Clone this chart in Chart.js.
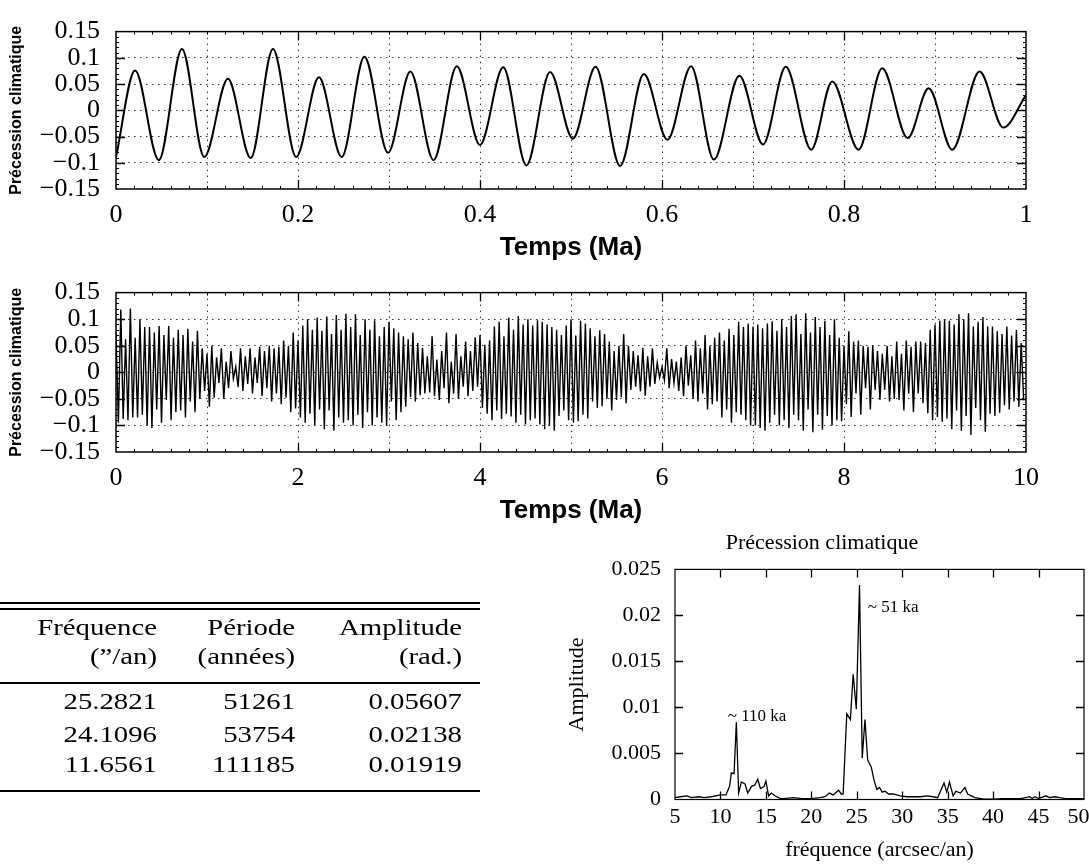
<!DOCTYPE html>
<html lang="fr">
<head>
<meta charset="utf-8">
<title>Précession climatique</title>
<script src="https://cdn.jsdelivr.net/npm/chart.js@4.4.1/dist/chart.umd.min.js"></script>
<style>
  html, body { margin: 0; padding: 0; background: #fff; }
  body { position: relative; width: 1089px; height: 865px; overflow: hidden; }
  .panel { position: absolute; }
  .rule { position: absolute; left: 0; width: 480px; background: #000; }
  #cells { position: absolute; left: 0; top: 0; transform: scaleX(1.25); transform-origin: 0 0;
           font-family: "Liberation Serif", serif; font-size: 23px; line-height: 26px; color: #000; }
  .cell { position: absolute; left: 0; text-align: right; white-space: nowrap; }
</style>
</head>
<body>
<div class="panel" style="left:0;top:0"><canvas id="topChart" width="1089" height="270"></canvas></div>
<div class="panel" style="left:0;top:261px"><canvas id="midChart" width="1089" height="270"></canvas></div>
<div class="panel" style="left:560px;top:525px"><canvas id="specChart" width="529" height="340"></canvas></div>
<div id="table"><div id="cells"></div></div>
<script>
// --- precession over the last 1 Ma (turning points of the curve)
const topTimes = [0, 0.021, 0.047, 0.0725, 0.097, 0.123, 0.148, 0.1725, 0.198, 0.223,
  0.248, 0.273, 0.299, 0.3235, 0.349, 0.3745, 0.400, 0.4255, 0.451, 0.477,
  0.502, 0.527, 0.554, 0.580, 0.606, 0.632, 0.657, 0.685, 0.711, 0.736,
  0.764, 0.787, 0.816, 0.842, 0.870, 0.893, 0.919, 0.949, 0.975, 1.0];
const topValues = [-0.089, 0.076, -0.095, 0.117, -0.089, 0.060, -0.091, 0.117, -0.089, 0.063,
  -0.089, 0.102, -0.081, 0.074, -0.095, 0.084, -0.066, 0.082, -0.105, 0.073,
  -0.054, 0.083, -0.106, 0.069, -0.056, 0.084, -0.094, 0.066, -0.065, 0.083,
  -0.075, 0.055, -0.075, 0.080, -0.053, 0.042, -0.075, 0.074, -0.033, 0.029];

// --- precession over 10 Ma, sampled: one row of maxima / minima per Ma
const midSpan = 10;
const midPeaks = [
  [0.075, 0.118, 0.062, 0.120, 0.065, 0.100, 0.085, 0.085, 0.075, 0.087, 0.070, 0.087, 0.065, 0.080, 0.070, 0.082, 0.058, 0.078, 0.045],
  [0.035, 0.050, 0.028, 0.045, 0.020, 0.040, 0.010, 0.045, 0.030, 0.045, 0.028, 0.048, 0.040, 0.050, 0.045, 0.048, 0.060, 0.050, 0.075],
  [0.060, 0.088, 0.100, 0.080, 0.103, 0.078, 0.105, 0.072, 0.108, 0.080, 0.110, 0.085, 0.109, 0.070, 0.100, 0.080, 0.098, 0.068, 0.085],
  [0.095, 0.083, 0.075, 0.068, 0.062, 0.075, 0.055, 0.046, 0.030, 0.068, 0.024, 0.040, 0.075, 0.020, 0.072, 0.030, 0.058, 0.040, 0.066],
  [0.070, 0.052, 0.060, 0.086, 0.095, 0.068, 0.103, 0.080, 0.106, 0.090, 0.100, 0.088, 0.098, 0.095, 0.090, 0.085, 0.080, 0.070, 0.088],
  [0.100, 0.069, 0.097, 0.092, 0.083, 0.068, 0.079, 0.072, 0.058, 0.040, 0.050, 0.072, 0.050, 0.040, 0.032, 0.046, 0.030, 0.045, 0.018],
  [0.010, 0.045, 0.025, 0.020, 0.028, 0.050, 0.032, 0.060, 0.045, 0.070, 0.050, 0.065, 0.075, 0.060, 0.082, 0.070, 0.095, 0.085, 0.092],
  [0.086, 0.090, 0.083, 0.092, 0.096, 0.078, 0.100, 0.085, 0.106, 0.109, 0.072, 0.111, 0.075, 0.104, 0.085, 0.097, 0.070, 0.100, 0.065],
  [0.050, 0.077, 0.058, 0.060, 0.050, 0.048, 0.050, 0.040, 0.035, 0.050, 0.030, 0.058, 0.035, 0.060, 0.048, 0.058, 0.058, 0.055, 0.080],
  [0.090, 0.097, 0.100, 0.097, 0.090, 0.109, 0.100, 0.111, 0.086, 0.095, 0.104, 0.086, 0.086, 0.077, 0.072, 0.086, 0.069, 0.080, 0.055]
];
const midTroughs = [
  [-0.095, -0.088, -0.090, -0.085, -0.085, -0.080, -0.100, -0.105, -0.070, -0.095, -0.052, -0.090, -0.075, -0.072, -0.085, -0.055, -0.075, -0.050, -0.035],
  [-0.065, -0.048, -0.020, -0.050, -0.030, -0.012, -0.028, -0.035, -0.022, -0.040, -0.020, -0.045, -0.030, -0.055, -0.040, -0.060, -0.048, -0.075, -0.068],
  [-0.085, -0.095, -0.078, -0.100, -0.070, -0.107, -0.072, -0.110, -0.085, -0.095, -0.090, -0.100, -0.080, -0.105, -0.075, -0.100, -0.085, -0.095, -0.100],
  [-0.055, -0.090, -0.075, -0.065, -0.047, -0.055, -0.043, -0.040, -0.038, -0.045, -0.052, -0.030, -0.058, -0.040, -0.050, -0.027, -0.045, -0.035, -0.027],
  [-0.067, -0.078, -0.090, -0.072, -0.088, -0.078, -0.083, -0.095, -0.080, -0.098, -0.090, -0.087, -0.098, -0.107, -0.100, -0.110, -0.082, -0.072, -0.090],
  [-0.095, -0.092, -0.080, -0.087, -0.055, -0.067, -0.064, -0.050, -0.072, -0.052, -0.047, -0.058, -0.033, -0.027, -0.036, -0.044, -0.027, -0.022, -0.010],
  [-0.015, -0.030, -0.020, -0.035, -0.045, -0.025, -0.050, -0.055, -0.040, -0.070, -0.060, -0.055, -0.085, -0.070, -0.095, -0.075, -0.080, -0.090, -0.100],
  [-0.100, -0.105, -0.110, -0.095, -0.080, -0.100, -0.090, -0.105, -0.080, -0.090, -0.110, -0.070, -0.113, -0.080, -0.108, -0.082, -0.100, -0.090, -0.092],
  [-0.060, -0.084, -0.040, -0.080, -0.030, -0.070, -0.033, -0.052, -0.033, -0.055, -0.050, -0.052, -0.072, -0.040, -0.075, -0.040, -0.058, -0.077, -0.090],
  [-0.084, -0.093, -0.087, -0.107, -0.072, -0.110, -0.082, -0.118, -0.067, -0.090, -0.112, -0.078, -0.082, -0.076, -0.062, -0.070, -0.055, -0.065, -0.050]
];

// --- amplitude spectrum
const specFreq = [5.0, 5.6, 6.3, 6.8, 7.6, 8.2, 9.0, 10.0, 10.6, 11.0, 11.2, 11.5, 11.75, 12.0, 12.3, 12.7,
  13.0, 13.4, 13.8, 14.1, 14.4, 14.8, 15.0, 15.3, 15.6, 16.0, 16.6, 17.0, 18.0, 19.0, 20.0, 21.0,
  21.5, 22.0, 22.4, 23.0, 23.3, 23.5, 23.9, 24.3, 24.6, 24.95, 25.3, 25.6, 25.9, 26.2, 26.6, 26.9,
  27.2, 27.5, 27.8, 28.1, 28.5, 29.0, 29.8, 30.5, 31.3, 32.0, 32.8, 33.4, 33.9, 34.6, 34.9, 35.2,
  35.6, 35.9, 36.4, 36.9, 37.2, 37.6, 38.0, 39.0, 40.0, 41.0, 42.0, 43.0, 43.6, 44.0, 44.3, 44.6,
  45.0, 45.8, 46.2, 46.8, 47.3, 48.0, 49.0, 50.0];
const specAmp = [0.0002, 0.0003, 0.0004, 0.0002, 0.0003, 0.0002, 0.0003, 0.0005, 0.0005, 0.0014, 0.0029, 0.0028, 0.0084, 0.0007, 0.0019, 0.0017,
  0.0007, 0.0014, 0.0016, 0.0022, 0.0012, 0.0014, 0.0020, 0.0004, 0.0007, 0.0004, 0.0001, 0.0001, 0.0002, 0.0001, 0.0001, 0.0002,
  0.0003, 0.0007, 0.0005, 0.0010, 0.0006, 0.0006, 0.0093, 0.0087, 0.0136, 0.0098, 0.0233, 0.0045, 0.0087, 0.0043, 0.0035, 0.0021,
  0.0011, 0.0013, 0.0008, 0.0009, 0.0006, 0.0006, 0.0004, 0.0003, 0.0003, 0.0003, 0.0004, 0.0003, 0.0002, 0.0018, 0.0008, 0.0019,
  0.0004, 0.0009, 0.0007, 0.0013, 0.0006, 0.0004, 0.0002, 0.00005, 0.00005, 0.0001, 0.0001, 0.0001, 0.0002, 0.0003, 0.0001, 0.0003,
  0.0001, 0.0004, 0.0002, 0.0003, 0.0002, 0.0001, 0.0001, 0.0001];
const peakNotes = [
  { f: 10.8, a: 0.0090, text: '~ 110 ka' },
  { f: 26.2, a: 0.0209, text: '~ 51 ka' }
];

// --- main terms of the decomposition
const tableHead1 = ['Fréquence', 'Période', 'Amplitude'];
const tableHead2 = ['(\u201D/an)', '(années)', '(rad.)'];
const tableFreq = ['25.2821', '24.1096', '11.6561'];
const tablePeriod = ['51261', '53754', '111185'];
const tableAmp = ['0.05607', '0.02138', '0.01919'];

// number format with a real minus sign
function fmt(v, prec) {
  const r = Math.round(v * prec) / prec;
  if (r === 0) return '0';
  return (r < 0 ? '\u2212' : '') + String(Math.abs(r));
}

// box around the plot with ticks pointing inwards
const framePlugin = {
  id: 'frame',
  afterDatasetsDraw(chart, args, o) {
    const {ctx, chartArea: a} = chart;
    const xs = chart.scales.x, ys = chart.scales.y;
    const marks = (scale, step, len, horiz) => {
      if (!step) return;
      const n = Math.round((scale.max - scale.min) / step);
      for (let i = 1; i < n; i++) {
        const p = Math.round(scale.getPixelForValue(scale.min + i * step)) + 0.5;
        if (horiz) {
          ctx.moveTo(p, a.bottom); ctx.lineTo(p, a.bottom - len);
          ctx.moveTo(p, a.top); ctx.lineTo(p, a.top + len);
        } else {
          ctx.moveTo(a.left, p); ctx.lineTo(a.left + len, p);
          ctx.moveTo(a.right, p); ctx.lineTo(a.right - len, p);
        }
      }
    };
    ctx.save();
    ctx.strokeStyle = '#000';
    ctx.lineWidth = 1;
    ctx.beginPath();
    marks(xs, o.xMinor, 3, true);
    marks(ys, o.yMinor, 3, false);
    ctx.stroke();
    ctx.lineWidth = 1.3;
    ctx.beginPath();
    marks(xs, o.xMajor, o.len, true);
    marks(ys, o.yMajor, o.len, false);
    ctx.stroke();
    ctx.lineWidth = o.width;
    ctx.strokeRect(a.left, a.top, a.right - a.left, a.bottom - a.top);
    ctx.restore();
  }
};

// text next to the spectral peaks
const notesPlugin = {
  id: 'notes',
  afterDatasetsDraw(chart) {
    const {ctx} = chart;
    const xs = chart.scales.x, ys = chart.scales.y;
    ctx.save();
    ctx.fillStyle = '#000';
    ctx.font = '17px "Liberation Serif"';
    ctx.textAlign = 'left';
    ctx.textBaseline = 'middle';
    peakNotes.forEach(n => ctx.fillText(n.text, xs.getPixelForValue(n.f), ys.getPixelForValue(n.a)));
    ctx.restore();
  }
};

const serif = 'Liberation Serif';
const sans = 'Liberation Sans';
const dots = [1.5, 4.5];

function timeChart(id, points, o) {
  return new Chart(document.getElementById(id), {
    type: 'line',
    data: { datasets: [{
      data: points, borderColor: '#000', borderWidth: o.lineWidth, pointRadius: 0, fill: false,
      tension: 0, cubicInterpolationMode: o.smooth ? 'monotone' : 'default'
    }] },
    options: {
      responsive: false, animation: false, devicePixelRatio: 1,
      layout: { padding: { top: 15, right: 63, bottom: o.padBottom, left: 0 } },
      plugins: {
        legend: { display: false }, tooltip: { enabled: false },
        frame: { width: 1.5, len: 9, xMajor: o.xStep * 2, xMinor: o.xMinor, yMajor: 0.05, yMinor: 0.01 }
      },
      scales: {
        x: {
          type: 'linear', min: 0, max: o.xMax,
          ticks: {
            stepSize: o.xStep, autoSkip: false, maxRotation: 0, minRotation: 0, padding: 11,
            color: '#000', font: { family: serif, size: 26 },
            callback: v => {
              const k = Math.round(v / o.xStep);
              return k % 2 === 0 ? String(+(k * o.xStep).toFixed(1)) : '';
            }
          },
          grid: {
            drawTicks: false, lineWidth: 1,
            color: c => (c.tick && (c.tick.value <= 0 || c.tick.value >= o.xMax)) ? 'rgba(0,0,0,0)' : '#333'
          },
          border: { display: false, dash: dots },
          title: { display: true, text: 'Temps (Ma)', color: '#000',
                   font: { family: sans, size: 26, weight: 'bold' }, padding: { top: 0, bottom: 0 } },
          afterFit: s => { s.height = 74; }
        },
        y: {
          min: -0.15, max: 0.15,
          ticks: { stepSize: 0.05, autoSkip: false, padding: 16, color: '#000', font: { family: serif, size: 26 },
                   callback: v => fmt(v, 1000) },
          grid: {
            drawTicks: false, lineWidth: 1,
            color: c => (c.tick && Math.abs(c.tick.value) > 0.149) ? 'rgba(0,0,0,0)' : '#333'
          },
          border: { display: false, dash: dots },
          title: { display: true, text: 'Précession climatique', color: '#000',
                   font: { family: sans, size: 16, weight: 'bold' }, padding: { top: 7, bottom: 0 } },
          afterFit: s => { s.width = 116; }
        }
      }
    },
    plugins: [framePlugin]
  });
}

// smooth curve over 1 Ma
const topPoints = topTimes.map((t, i) => ({ x: t, y: topValues[i] }));
timeChart('topChart', topPoints, { xMax: 1, xStep: 0.1, xMinor: 0.02, lineWidth: 2, smooth: true, padBottom: 7 });

// sampled curve over 10 Ma: maxima and minima alternate
const midPoints = [];
const peaksFlat = midPeaks.flat();
const troughsFlat = midTroughs.flat();
const midPeriod = midSpan / peaksFlat.length;
peaksFlat.forEach((p, i) => {
  midPoints.push({ x: i * midPeriod, y: p });
  midPoints.push({ x: (i + 0.5) * midPeriod, y: troughsFlat[i] });
});
timeChart('midChart', midPoints, { xMax: midSpan, xStep: 1, xMinor: 0.2, lineWidth: 1.4, smooth: false, padBottom: 5 });

// spectrum
new Chart(document.getElementById('specChart'), {
  type: 'line',
  data: { datasets: [{
    data: specFreq.map((f, i) => ({ x: f, y: specAmp[i] })),
    borderColor: '#000', borderWidth: 1.3, pointRadius: 0, fill: false, tension: 0
  }] },
  options: {
    responsive: false, animation: false, devicePixelRatio: 1,
    layout: { padding: { top: 0, right: 5, bottom: 0, left: 0 } },
    plugins: {
      legend: { display: false }, tooltip: { enabled: false },
      title: { display: true, text: 'Précession climatique', color: '#000',
               font: { family: serif, size: 22, weight: 'normal' }, padding: { top: 5, bottom: 13 } },
      frame: { width: 1.2, len: 8, xMajor: 5, yMajor: 0.005 }
    },
    scales: {
      x: {
        type: 'linear', min: 5, max: 50,
        ticks: { stepSize: 5, autoSkip: false, maxRotation: 0, padding: 5, color: '#000',
                 font: { family: serif, size: 22 }, callback: v => v === 50 ? '50  ' : String(v) },
        grid: { display: false, drawTicks: false },
        border: { display: false },
        title: { display: true, text: 'fréquence (arcsec/an)', color: '#000',
                 font: { family: serif, size: 22 }, padding: { top: 0, bottom: 2 } },
        afterFit: s => { s.height = 65.5; s.paddingLeft = 0; s.paddingRight = 0; }
      },
      y: {
        min: 0, max: 0.025,
        ticks: { stepSize: 0.005, autoSkip: false, padding: 14, color: '#000', font: { family: serif, size: 22 },
                 callback: v => fmt(v, 10000) },
        grid: { display: false, drawTicks: false },
        border: { display: false },
        title: { display: true, text: 'Amplitude', color: '#000',
                 font: { family: serif, size: 22 }, padding: { top: 4, bottom: 0 } },
        afterFit: s => { s.width = 115; }
      }
    }
  },
  plugins: [framePlugin, notesPlugin]
});

// table of the main terms
const table = document.getElementById('table');
[[602, 2.4], [608, 1.8], [681.5, 2.4], [789.5, 2.6]].forEach(([y, h]) => {
  const r = document.createElement('div');
  r.className = 'rule';
  r.style.top = y + 'px';
  r.style.height = h + 'px';
  table.appendChild(r);
});
const cells = document.getElementById('cells');
const colRight = [157, 295, 462];
const rows = [
  [628, tableHead1],
  [657, tableHead2],
  [702, [tableFreq[0], tablePeriod[0], tableAmp[0]]],
  [735, [tableFreq[1], tablePeriod[1], tableAmp[1]]],
  [765, [tableFreq[2], tablePeriod[2], tableAmp[2]]]
];
rows.forEach(([y, texts]) => {
  texts.forEach((t, j) => {
    const c = document.createElement('div');
    c.className = 'cell';
    c.style.top = (y - 13) + 'px';
    c.style.width = (colRight[j] / 1.25) + 'px';
    c.textContent = t;
    cells.appendChild(c);
  });
});
</script>
</body>
</html>
